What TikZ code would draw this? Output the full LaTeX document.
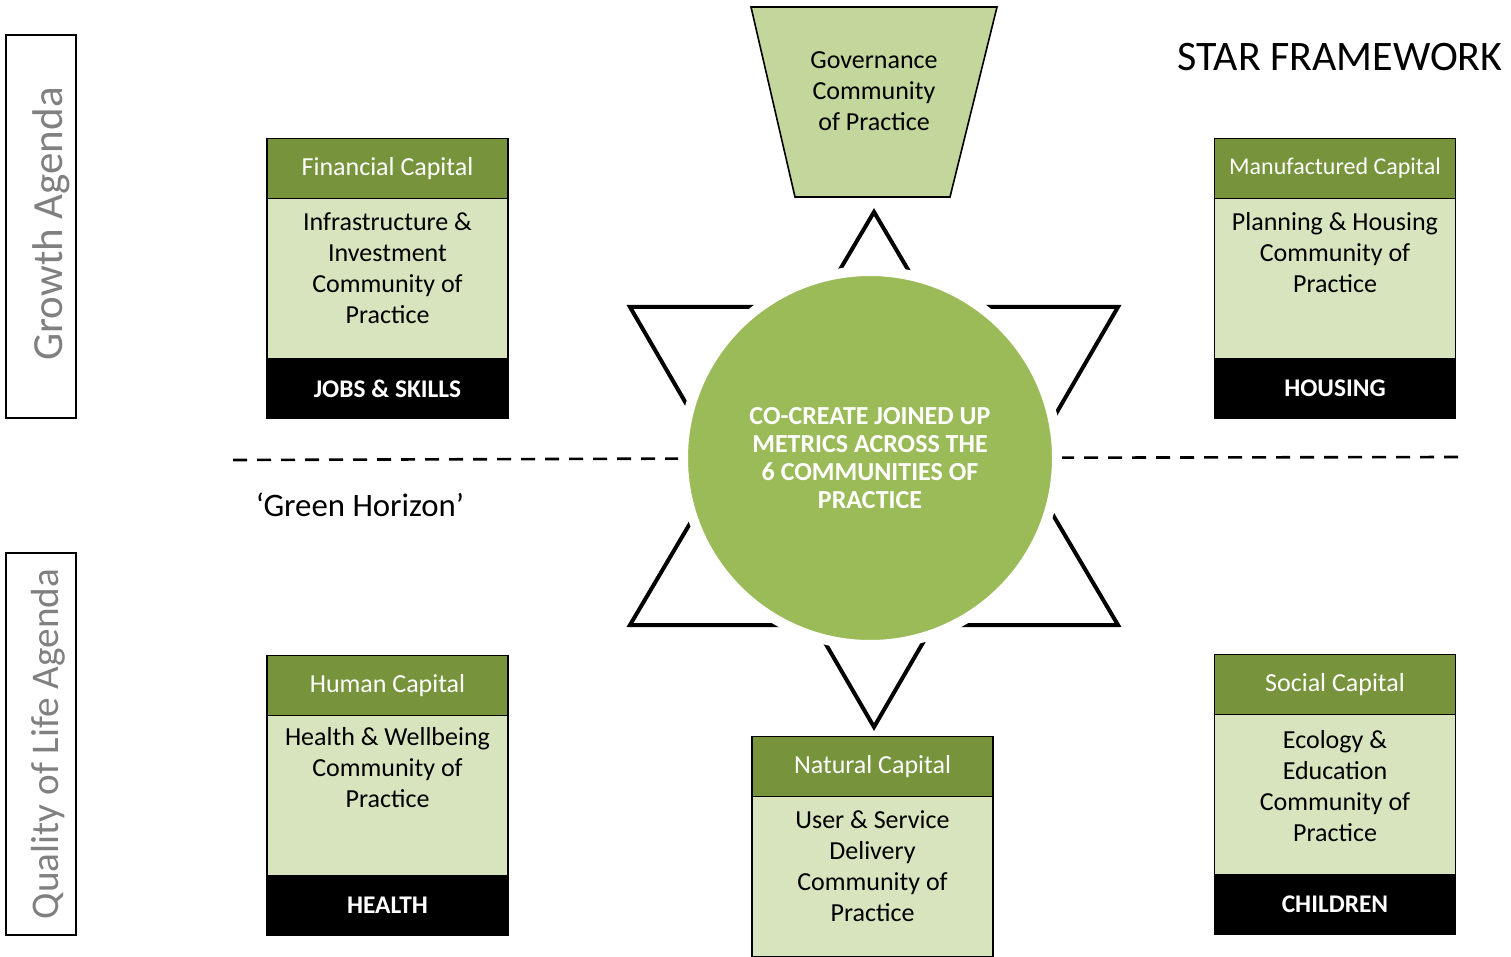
\documentclass[tikz,border=0pt]{standalone}
\usepackage{fontspec}
\setmainfont{Carlito}
\usetikzlibrary{positioning}
\definecolor{headgreen}{HTML}{77933C}
\definecolor{bodygreen}{HTML}{D7E4BD}
\definecolor{govgreen}{HTML}{C3D69B}
\definecolor{hubgreen}{HTML}{9BBB59}
\definecolor{agendagrey}{HTML}{808080}
\tikzset{
  capital/.style={draw, line width=0.8pt, fill=headgreen, text=white, minimum width=120.5pt,
    minimum height=30pt, inner sep=0pt, outer sep=0pt, font=\fontsize{13}{15}\selectfont},
  cop/.style={draw, line width=0.8pt, fill=bodygreen, minimum width=120.5pt, minimum height=80pt,
    inner sep=0pt, outer sep=0pt},
  coptext/.style={align=center, inner sep=0pt, font=\fontsize{13}{15.5}\selectfont},
  theme/.style={draw, line width=0.8pt, fill=black, text=white, minimum width=120.5pt,
    minimum height=30pt, inner sep=0pt, outer sep=0pt, font=\bfseries\fontsize{12.7}{15}\selectfont},
  agenda/.style={line width=1pt},
  agendatext/.style={rotate=90, text=agendagrey},
  star/.style={line width=2pt},
  hub/.style={circle, fill=hubgreen, draw=white, line width=5pt, minimum size=187pt, inner sep=0pt,
    text=white, align=center, font=\bfseries\fontsize{13}{13.9}\selectfont},
  horizon/.style={line width=1.3pt, dash pattern=on 7pt off 5pt}
}
\begin{document}
\begin{tikzpicture}[x=0.5pt, y=-0.5pt]
\useasboundingbox (0,0) rectangle (1511,957);
% agendas on the left
\draw[agenda] (6,35) rectangle (76,418);
\node[agendatext, font=\fontsize{21.5}{24}\selectfont] (growth) at (51,224) {Growth Agenda};
\draw[agenda] (6,553) rectangle (76,935);
\node[agendatext, font=\fontsize{19.6}{23}\selectfont] (quality) at (48,744) {Quality of Life Agenda};
\node[anchor=east, inner sep=0pt, font=\fontsize{21}{25}\selectfont] (title) at (1503,57) {STAR FRAMEWORK};

% governance at the top
\draw[fill=govgreen, line width=0.8pt] (751,7) -- (997,7) -- (950,197) -- (795,197) -- cycle;
\node[coptext] (gov) at (874,91) {Governance\\Community\\of Practice};

% star and hub
\draw[star] (874,212) -- (1118,625) -- (630,625) -- cycle;
\draw[star] (630,307) -- (1118,307) -- (874,727) -- cycle;
\node[hub] (hub) at (870,458) {CO-CREATE JOINED UP\\METRICS ACROSS THE\\6 COMMUNITIES OF\\PRACTICE};

% green horizon
\coordinate (hz-l) at (233,460);
\coordinate (hz-r) at (1458,457);
\draw[horizon] (hz-l) -- (hub);
\draw[horizon] (hz-r) -- (hub);
\node[font=\fontsize{16.4}{19}\selectfont] (horizon) at (360,505) {‘Green Horizon’};

% capitals
\node[capital] (fin-h) at (387.5,168.5) {Financial Capital};
\node[cop, below=0pt of fin-h] (fin-b) {};
\node[theme, below=0pt of fin-b] (fin-f) {JOBS \& SKILLS};
\node[coptext, below=7pt of fin-b.north] (fin-t) {Infrastructure \&\\Investment\\Community of\\Practice};

\node[capital, font=\fontsize{12}{14}\selectfont] (man-h) at (1335,168.5) {Manufactured Capital};
\node[cop, below=0pt of man-h] (man-b) {};
\node[theme, below=0pt of man-b] (man-f) {HOUSING};
\node[coptext, below=7pt of man-b.north] (man-t) {Planning \& Housing\\Community of\\Practice};

\node[capital] (hum-h) at (387.5,685.5) {Human Capital};
\node[cop, below=0pt of hum-h] (hum-b) {};
\node[theme, below=0pt of hum-b] (hum-f) {HEALTH};
\node[coptext, below=6pt of hum-b.north] (hum-t) {Health \& Wellbeing\\Community of\\Practice};

\node[capital] (soc-h) at (1335,684.5) {Social Capital};
\node[cop, below=0pt of soc-h] (soc-b) {};
\node[theme, below=0pt of soc-b] (soc-f) {CHILDREN};
\node[coptext, below=8pt of soc-b.north] (soc-t) {Ecology \&\\Education\\Community of\\Practice};

\node[capital] (nat-h) at (872.5,766.5) {Natural Capital};
\node[cop, below=0pt of nat-h] (nat-b) {};
\node[coptext, below=7pt of nat-b.north] (nat-t) {User \& Service\\Delivery\\Community of\\Practice};
\end{tikzpicture}
\end{document}
